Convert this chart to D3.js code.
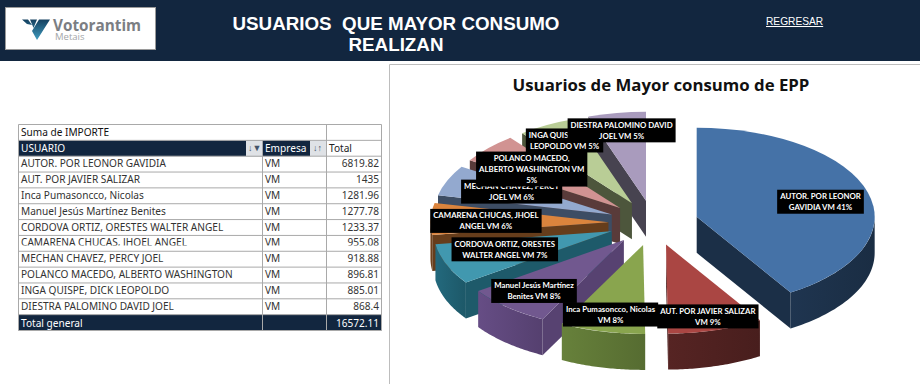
<!DOCTYPE html>
<html>
<head>
<meta charset="utf-8">
<script src="https://cdn.jsdelivr.net/npm/d3@7/dist/d3.min.js"></script>
<style>
html, body { margin: 0; padding: 0; background: #fff; overflow: hidden; }
svg { display: block; }
</style>
</head>
<body>
<svg id="hoja" width="920" height="384"></svg>
<script>
// datos de la tabla dinamica
var usuarios = ["AUTOR. POR LEONOR GAVIDIA", "AUT. POR JAVIER SALIZAR", "Inca Pumasoncco, Nicolas",
    "Manuel Jesús Martínez Benites", "CORDOVA ORTIZ, ORESTES WALTER ANGEL", "CAMARENA CHUCAS, JHOEL ANGEL",
    "MECHAN CHAVEZ, PERCY JOEL", "POLANCO MACEDO, ALBERTO WASHINGTON", "INGA QUISPE, DICK LEOPOLDO",
    "DIESTRA PALOMINO DAVID JOEL"];
var empresas = ["VM", "VM", "VM", "VM", "VM", "VM", "VM", "VM", "VM", "VM"];
var importes = [6819.82, 1435, 1281.96, 1277.78, 1233.37, 955.08, 918.88, 896.81, 885.01, 868.4];
var totalGeneral = "16572.11";

// textos de las etiquetas del pie, por linea
var etiquetas = [
    ["AUTOR. POR LEONOR", "GAVIDIA VM 41%"],
    ["AUT. POR JAVIER SALIZAR", "VM 9%"],
    ["Inca Pumasoncco, Nicolas", "VM 8%"],
    ["Manuel Jesús Martínez", "Benites VM 8%"],
    ["CORDOVA ORTIZ, ORESTES", "WALTER ANGEL VM 7%"],
    ["CAMARENA CHUCAS, JHOEL", "ANGEL VM 6%"],
    ["MECHAN CHAVEZ, PERCY", "JOEL VM 6%"],
    ["POLANCO MACEDO,", "ALBERTO WASHINGTON VM", "5%"],
    ["INGA QUISPE, DICK", "LEOPOLDO VM 5%"],
    ["DIESTRA PALOMINO DAVID", "JOEL VM 5%"]
];

var coloresTapa = ["#4572a7", "#aa4643", "#89a54e", "#71588f", "#4198af", "#db843d", "#93a9cf", "#d19392", "#b9cd96", "#a99bbd"];
var coloresPared = ["#1b2f47", "#4c201f", "#5b7234", "#5a4475", "#1f5d6e", "#6a3f1c", "#3f5068", "#5c3d3c", "#50593e", "#4a4553"];

var svg = d3.select("#hoja");
var defs = svg.append("defs");
var fuenteTabla = "'Noto Sans', sans-serif";
var fuenteEtiqueta = "Lato, sans-serif";
var azul = "#12263f";

//---------  cabecera

svg.append("rect").attr("width", 920).attr("height", 61).attr("fill", azul);

var logo = svg.append("g");
logo.append("rect").attr("x", 5.5).attr("y", 7.5).attr("width", 150).attr("height", 42)
    .attr("fill", "#fff").attr("stroke", "#9a9a9a");
var degradadoLogo = defs.append("linearGradient").attr("id", "logoAzul").attr("x1", 0).attr("y1", 0).attr("x2", 0).attr("y2", 1);
degradadoLogo.append("stop").attr("offset", "0%").attr("stop-color", "#14405f");
degradadoLogo.append("stop").attr("offset", "100%").attr("stop-color", "#3f9cc0");
logo.append("path").attr("d", "M22,19.5 L28,19.5 L32,25 L27,24 Z M30,19.5 L37,19.5 L33.5,28 Z M39,19.5 L50,19.5 L37,40 L32,31 Z")
    .attr("fill", "url(#logoAzul)");
logo.append("text").attr("x", 53).attr("y", 31).attr("fill", "#7b7e83")
    .style("font", "bold 15.3px 'Open Sans', sans-serif").text("Votorantim");
logo.append("text").attr("x", 55).attr("y", 40).attr("fill", "#a3a6a9")
    .style("font", "9.5px 'Open Sans', sans-serif").text("Metais");

var titulo = svg.append("g").attr("fill", "#fff").attr("text-anchor", "middle")
    .style("font", "bold 18.8px 'Liberation Sans', sans-serif");
titulo.append("text").attr("x", 396).attr("y", 30).attr("xml:space", "preserve").text("USUARIOS  QUE MAYOR CONSUMO");
titulo.append("text").attr("x", 396).attr("y", 51).text("REALIZAN");

svg.append("text").attr("x", 766).attr("y", 25).attr("fill", "#fff")
    .attr("text-decoration", "underline")
    .style("font", "10.2px 'Liberation Sans', sans-serif").text("REGRESAR");

//---------  tabla

var tablaX = [18.5, 262.5, 326.5, 381.5];
var filas = ["suma", "cabecera"].concat(usuarios, ["total"]);
var y = d3.scaleBand().domain(filas).range([124.5, 330.5]);
var filasDatos = usuarios.map(function (u, i) { return {usuario: u, empresa: empresas[i], importe: importes[i]}; });

var tabla = svg.append("g");
tabla.append("rect").attr("x", tablaX[0]).attr("y", y("cabecera")).attr("width", tablaX[1] - tablaX[0])
    .attr("height", y.bandwidth()).attr("fill", azul);
tabla.append("rect").attr("x", tablaX[1]).attr("y", y("cabecera")).attr("width", 48)
    .attr("height", y.bandwidth()).attr("fill", azul);
tabla.append("rect").attr("x", 246).attr("y", y("cabecera")).attr("width", 16)
    .attr("height", y.bandwidth()).attr("fill", "#dfe2e6");
tabla.append("rect").attr("x", 310).attr("y", y("cabecera")).attr("width", 16)
    .attr("height", y.bandwidth()).attr("fill", "#dfe2e6");
tabla.append("rect").attr("x", tablaX[0]).attr("y", y("total")).attr("width", tablaX[3] - tablaX[0])
    .attr("height", y.bandwidth()).attr("fill", azul);

// lineas de la rejilla
tabla.selectAll(".fila").data(filas).enter().append("line")
    .attr("class", "fila")
    .attr("x1", tablaX[0]).attr("x2", tablaX[3])
    .attr("y1", function (d) { return y(d); }).attr("y2", function (d) { return y(d); })
    .attr("stroke", "#a9a9a9");
tabla.append("line").attr("x1", tablaX[0]).attr("x2", tablaX[3]).attr("y1", 330.5).attr("y2", 330.5).attr("stroke", "#a9a9a9");
tablaX.forEach(function (x, i) {
    tabla.append("line").attr("x1", x).attr("x2", x)
        .attr("y1", (i == 1) ? y("cabecera") : 124.5).attr("y2", 330.5)
        .attr("stroke", "#a9a9a9");
});

tabla.append("text").attr("x", 21).attr("y", 135.5).attr("fill", "#111").attr("class", "txt").text("Suma de IMPORTE");
tabla.append("text").attr("x", 21).attr("y", 151.5).attr("fill", "#fff").attr("class", "txt").text("USUARIO");
tabla.append("text").attr("x", 265).attr("y", 151.5).attr("fill", "#fff").attr("class", "txt").text("Empresa");
tabla.append("text").attr("x", 329).attr("y", 151.5).attr("fill", "#222").attr("class", "txt").text("Total");
tabla.append("text").attr("x", 248).attr("y", 151).attr("fill", "#44546a").style("font-size", "9px").text("↓▼");
tabla.append("text").attr("x", 313).attr("y", 151).attr("fill", "#44546a").style("font-size", "9px").text("↓↑");

// la fila de CAMARENA sale cortada en la captura
defs.append("clipPath").attr("id", "corteCamarena").append("rect")
    .attr("x", 18).attr("y", y(usuarios[5])).attr("width", 364).attr("height", 10);

var fila = tabla.selectAll(".datos").data(filasDatos).enter().append("g")
    .attr("class", "datos")
    .attr("clip-path", function (d, i) { return i == 5 ? "url(#corteCamarena)" : null; })
    .attr("fill", "#333");
fila.append("text").attr("x", 21).attr("y", function (d) { return y(d.usuario) + 11; }).attr("class", "txt")
    .text(function (d) { return d.usuario; });
fila.append("text").attr("x", 265).attr("y", function (d) { return y(d.usuario) + 11; }).attr("class", "txt")
    .text(function (d) { return d.empresa; });
fila.append("text").attr("x", 379).attr("y", function (d) { return y(d.usuario) + 11; }).attr("class", "txt")
    .attr("text-anchor", "end").text(function (d) { return d.importe; });

tabla.append("text").attr("x", 21).attr("y", y("total") + 12).attr("fill", "#fff").attr("class", "txt").text("Total general");
tabla.append("text").attr("x", 379).attr("y", y("total") + 12).attr("fill", "#fff").attr("class", "txt")
    .attr("text-anchor", "end").text(totalGeneral);

tabla.selectAll(".txt").style("font-family", fuenteTabla).style("font-size", "10.1px");

//---------  grafico

svg.append("path").attr("d", "M389.5,384 V64.5 H920").attr("fill", "none").attr("stroke", "#bdbdbd");

svg.append("text").attr("x", 661).attr("y", 91).attr("text-anchor", "middle").attr("fill", "#111")
    .style("font", "bold 16.8px 'Open Sans', sans-serif").text("Usuarios de Mayor consumo de EPP");

var centroX = 653.4, centroY = 223, radio = 178, achat = 0.5, alto = 36, explota = 45;

var pie = d3.pie().sort(null).value(function (d) { return d; });
var arc = d3.arc().innerRadius(0).outerRadius(radio);
var tapa = d3.scaleOrdinal().domain(d3.range(importes.length)).range(coloresTapa);
var pared = d3.scaleOrdinal().domain(d3.range(importes.length)).range(coloresPared);

var porciones = pie(importes).map(function (d, i) {
    var medio = (d.startAngle + d.endAngle) / 2;
    d.i = i;
    d.ax = centroX + explota * Math.sin(medio);
    d.ay = centroY - explota * achat * Math.cos(medio);
    return d;
});

function punto(d, a, r) {
    return [d.ax + r * Math.sin(a), d.ay - r * achat * Math.cos(a)];
}

// cara plana entre el vertice y el borde exterior
function caraRadial(d, a) {
    var p = punto(d, a, radio);
    return "M" + d.ax + "," + d.ay + "L" + p[0] + "," + p[1] +
        "L" + p[0] + "," + (p[1] + alto) + "L" + d.ax + "," + (d.ay + alto) + "Z";
}

// pared curva, solo la parte que mira hacia abajo
function paredCurva(d) {
    var a0 = Math.max(d.startAngle, Math.PI / 2), a1 = Math.min(d.endAngle, Math.PI * 1.5);
    if (a1 <= a0) return null;
    var pasos = d3.range(0, 41).map(function (k) { return a0 + (a1 - a0) * k / 40; });
    var arriba = pasos.map(function (a) { return punto(d, a, radio); });
    var abajo = pasos.slice().reverse().map(function (a) {
        var p = punto(d, a, radio);
        return [p[0], p[1] + alto];
    });
    return d3.line()(arriba.concat(abajo)) + "Z";
}

// degradado de las paredes
porciones.forEach(function (d) {
    var g = defs.append("linearGradient").attr("id", "pared" + d.i);
    g.append("stop").attr("offset", "0%").attr("stop-color", d3.color(pared(d.i)).brighter(0.35));
    g.append("stop").attr("offset", "100%").attr("stop-color", d3.color(pared(d.i)).darker(0.15));
});

// de atras hacia adelante
var ordenDibujo = [9, 8, 7, 6, 5, 4, 3, 2, 0, 1];
var pastel = svg.append("g");
ordenDibujo.forEach(function (i) {
    var d = porciones[i];
    var g = pastel.append("g");
    // una cara se ve si su normal apunta hacia abajo en pantalla
    if (Math.cos(d.startAngle - Math.PI / 2) < 0) {
        g.append("path").attr("d", caraRadial(d, d.startAngle)).attr("fill", d3.color(pared(i)).darker(0.1));
    }
    if (Math.cos(d.endAngle + Math.PI / 2) < 0) {
        g.append("path").attr("d", caraRadial(d, d.endAngle)).attr("fill", pared(i));
    }
    var curva = paredCurva(d);
    if (curva) g.append("path").attr("d", curva).attr("fill", "url(#pared" + i + ")");
    g.append("path").attr("d", arc(d))
        .attr("transform", "translate(" + d.ax + "," + d.ay + ") scale(1," + achat + ")")
        .attr("fill", tapa(i));
});

// ajuste manual de cada etiqueta respecto a su punto en el pie
var ajusteEtiqueta = [[4, 2], [7, 12], [-4, 9], [-8, 4], [9, -5], [2, 1], [15, 1], [4, 3], [-8, -8], [-4, -9]];
var ordenEtiquetas = [0, 1, 2, 3, 4, 5, 6, 8, 7, 9];
var altoLinea = 11;

ordenEtiquetas.forEach(function (i) {
    var d = porciones[i];
    var medio = (d.startAngle + d.endAngle) / 2;
    var p = punto(d, medio, radio * 0.7);
    var lx = p[0] + ajusteEtiqueta[i][0], ly = p[1] + ajusteEtiqueta[i][1];
    var lineas = etiquetas[i];

    var g = svg.append("g");
    var caja = g.append("rect").attr("fill", "#000");
    var textos = g.selectAll("text").data(lineas).enter().append("text")
        .attr("x", lx)
        .attr("y", function (l, k) { return ly + (k - (lineas.length - 1) / 2) * altoLinea + 3; })
        .attr("text-anchor", "middle").attr("fill", "#fff")
        .style("font", "bold 7.8px " + fuenteEtiqueta)
        .text(function (l) { return l; });
    var ancho = d3.max(textos.nodes(), function (n) { return n.getComputedTextLength(); }) + 6;
    var altoCaja = lineas.length * altoLinea + 2;
    caja.attr("x", lx - ancho / 2).attr("y", ly - altoCaja / 2).attr("width", ancho).attr("height", altoCaja);
});
</script>
</body>
</html>
